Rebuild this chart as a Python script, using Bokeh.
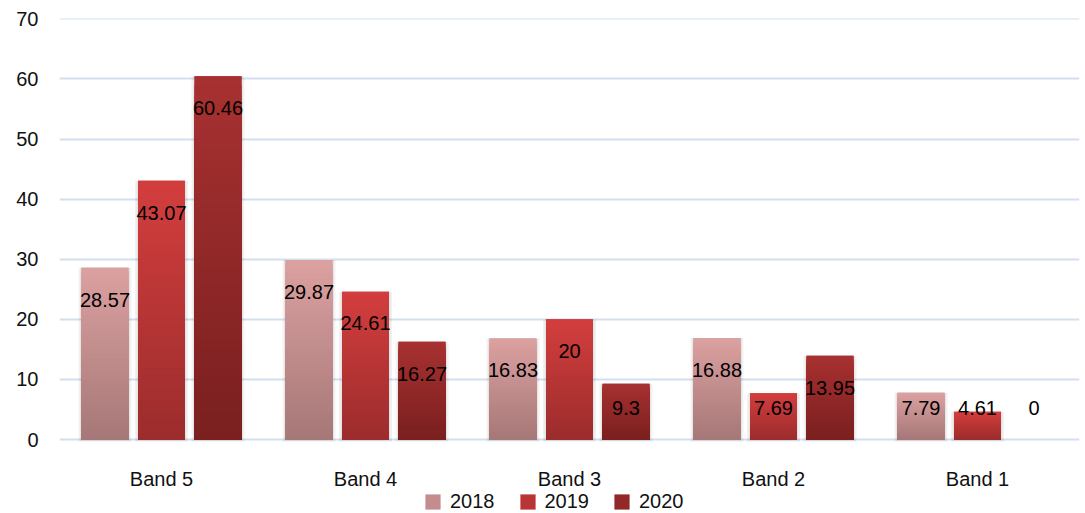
from bokeh.plotting import figure
from bokeh.models import (ColumnDataSource, FactorRange, Range1d, Legend,
                          LegendItem, FixedTicker)
from bokeh.transform import dodge
from bokeh.core.properties import value
from bokeh.embed import file_html
from bokeh.resources import INLINE

# ---- data ----
categories = ["Band 5", "Band 4", "Band 3", "Band 2", "Band 1"]
years = ["2018", "2019", "2020"]
v2018 = [28.57, 29.87, 16.83, 16.88, 7.79]
v2019 = [43.07, 24.61, 20, 7.69, 4.61]
v2020 = [60.46, 16.27, 9.3, 13.95, 0]
y_ticks = [0, 10, 20, 30, 40, 50, 60, 70]

series = [v2018, v2019, v2020]
top_colors = ["#dca1a1", "#d33e3e", "#a83131"]
bottom_colors = ["#a67777", "#9c2c2c", "#7a1f1f"]
mid_colors = ["#c48c8c", "#b93434", "#922828"]
offsets = [-0.277, 0.0, 0.277]
bar_width = 0.23
FONT = "Liberation Sans"
N = 40
CAT_LABEL_Y = -6.5   # category labels sit below the baseline


def hex2rgb(h):
    h = h.lstrip("#")
    return tuple(int(h[i:i + 2], 16) for i in (0, 2, 4))


def lerp(c0, c1, t):
    a, b = hex2rgb(c0), hex2rgb(c1)
    return "#%02x%02x%02x" % tuple(int(round(a[i] + (b[i] - a[i]) * t)) for i in range(3))


p = figure(x_range=FactorRange(factors=categories),
           y_range=Range1d(-12.3, 70.05),
           width=1085, height=513,
           min_border_left=59, min_border_right=6,
           min_border_top=18, min_border_bottom=0,
           output_backend="svg", toolbar_location=None)
p.outline_line_color = None
p.background_fill_color = "white"
p.border_fill_color = "white"

# grid
p.xgrid.grid_line_color = None
p.ygrid.grid_line_color = "#d3dff0"
p.ygrid.grid_line_width = 1.8
p.ygrid.ticker = FixedTicker(ticks=y_ticks)

# axes
p.xaxis.visible = False
p.yaxis.ticker = FixedTicker(ticks=y_ticks)
ax = p.yaxis[0]
ax.axis_line_color = None
ax.major_tick_line_color = None
ax.minor_tick_line_color = None
ax.major_label_text_font = FONT
ax.major_label_text_font_size = "20px"
ax.major_label_text_color = "#111111"
ax.major_label_standoff = 15

# category labels (x axis)
csrc = ColumnDataSource(dict(cat=categories, y=[CAT_LABEL_Y] * len(categories)))
p.text(x="cat", y="y", text="cat", source=csrc,
       text_font=value(FONT), text_font_size=value("20px"),
       text_color="#111111", text_align="center", text_baseline="middle")

legend_items = []
for si, vals in enumerate(series):
    off = offsets[si]
    xs = dodge("cat", off, range=p.x_range)

    # soft shadow (none for empty bars)
    sh = ColumnDataSource(dict(cat=categories, top=vals,
                               b1=[-0.35 if v > 0 else 0 for v in vals],
                               b2=[-0.2 if v > 0 else 0 for v in vals]))
    p.vbar(x=xs, top="top", bottom="b1", width=bar_width + 0.03, source=sh,
           fill_color="#000000", fill_alpha=0.05, line_color=None)
    p.vbar(x=xs, top="top", bottom="b2", width=bar_width + 0.015, source=sh,
           fill_color="#000000", fill_alpha=0.05, line_color=None)

    # base bar (legend)
    base = ColumnDataSource(dict(cat=categories, top=vals))
    r = p.vbar(x=xs, top="top", width=bar_width, source=base,
               fill_color=mid_colors[si], line_color=None)
    legend_items.append(LegendItem(label=years[si], renderers=[r]))

    # vertical gradient: nested slices, tallest first
    cats, tops, cols = [], [], []
    for k in range(N, 0, -1):
        t = (k - 0.5) / N
        c = lerp(bottom_colors[si], top_colors[si], t)
        for ci, v in enumerate(vals):
            cats.append(categories[ci])
            tops.append(v * k / N)
            cols.append(c)
    gsrc = ColumnDataSource(dict(cat=cats, top=tops, color=cols))
    p.vbar(x=xs, top="top", width=bar_width, source=gsrc,
           fill_color="color", line_color=None)

# value labels
for si, vals in enumerate(series):
    off = offsets[si]
    ly = [max(v - 5.3, 5.3) for v in vals]
    lbl = ["%g" % v for v in vals]
    src = ColumnDataSource(dict(cat=categories, y=ly, text=lbl))
    p.text(x=dodge("cat", off, range=p.x_range), y="y", text="text", source=src,
           text_font=value(FONT), text_font_size=value("20px"),
           text_color="#000000", text_align="center", text_baseline="middle")

legend = Legend(items=legend_items, location=(364, 0), orientation="horizontal",
                border_line_color=None, background_fill_alpha=0,
                padding=0, margin=0, spacing=23, label_standoff=8,
                glyph_width=19, glyph_height=19, label_height=19,
                label_text_font=FONT, label_text_font_size="20px",
                label_text_color="#111111")
p.add_layout(legend)

open("out.html", "w").write(file_html(p, INLINE))
